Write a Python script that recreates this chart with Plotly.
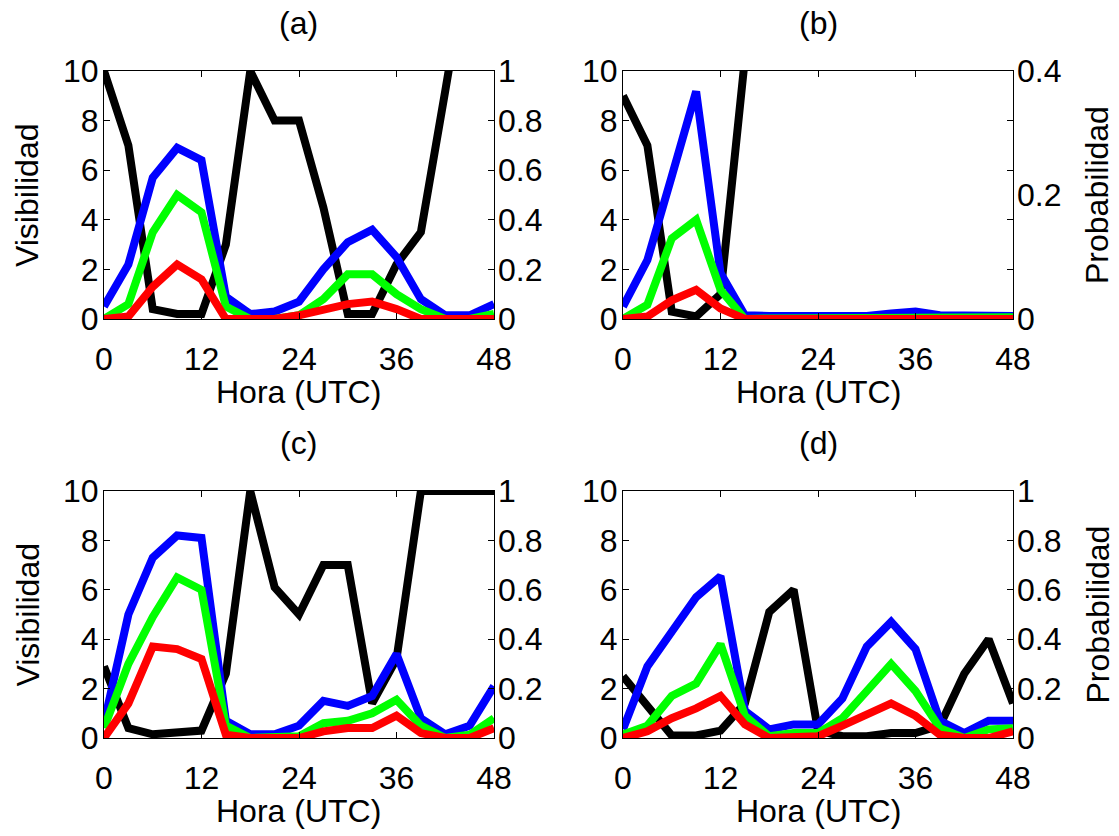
import plotly.graph_objects as go

# ---------------- data ----------------
hours = [0, 3, 6, 9, 12, 15, 18, 21, 24, 27, 30, 33, 36, 39, 42, 45, 48]

# panel (a)
vis_a = [10, 7, 0.4, 0.2, 0.2, 3, 10, 8, 8, 4.5, 0.2, 0.2, 2.2, 3.5, 9.2, 15, 15]
prob_a_blue = [0.05, 0.22, 0.57, 0.69, 0.64, 0.09, 0.02, 0.03, 0.07, 0.2, 0.31, 0.36, 0.25, 0.08, 0.015, 0.015, 0.06]
prob_a_green = [0, 0.06, 0.35, 0.5, 0.43, 0.05, 0, 0, 0.015, 0.08, 0.18, 0.18, 0.1, 0.04, 0, 0, 0.02]
prob_a_red = [0, 0.01, 0.13, 0.22, 0.16, 0, 0, 0, 0.015, 0.04, 0.06, 0.07, 0.04, 0, 0, 0, 0]

# panel (b)
vis_b = [9, 7, 0.3, 0.1, 1, 10.3, 20, 20, 20, 20, 20, 20, 20, 20, 20, 20, 20]
prob_b_blue = [0.02, 0.095, 0.23, 0.367, 0.074, 0.006, 0.005, 0.005, 0.005, 0.005, 0.005, 0.009, 0.012, 0.006, 0.005, 0.005, 0.005]
prob_b_green = [0, 0.023, 0.13, 0.16, 0.047, 0, 0.001, 0.001, 0.001, 0.001, 0.001, 0.001, 0.001, 0.001, 0.001, 0.002, 0.003]
prob_b_red = [0, 0.004, 0.03, 0.047, 0.017, 0, 0, 0, 0, 0, 0, 0, 0, 0, 0, 0, 0]

# panel (c)
vis_c = [2.9, 0.4, 0.15, 0.2, 0.3, 2.6, 10, 6.1, 5, 7, 7, 1.4, 3.2, 10, 10, 10, 10]
prob_c_blue = [0.06, 0.5, 0.73, 0.82, 0.81, 0.07, 0.015, 0.015, 0.05, 0.15, 0.13, 0.17, 0.34, 0.08, 0.015, 0.05, 0.21]
prob_c_green = [0.04, 0.3, 0.49, 0.65, 0.6, 0.05, 0, 0, 0.007, 0.06, 0.07, 0.1, 0.155, 0.05, 0, 0.013, 0.08]
prob_c_red = [0, 0.14, 0.37, 0.36, 0.32, 0.013, 0, 0, 0, 0.027, 0.04, 0.04, 0.09, 0.02, 0, 0, 0.04]

# panel (d)
vis_d = [2.5, 1.3, 0.1, 0.1, 0.3, 1.4, 5.1, 6, 0.3, 0.07, 0.07, 0.2, 0.2, 0.5, 2.6, 4, 1.4]
prob_d_blue = [0.035, 0.29, 0.43, 0.57, 0.655, 0.11, 0.035, 0.055, 0.055, 0.16, 0.37, 0.47, 0.36, 0.07, 0.02, 0.07, 0.07]
prob_d_green = [0.014, 0.05, 0.17, 0.22, 0.38, 0.09, 0.007, 0.02, 0.02, 0.08, 0.19, 0.3, 0.19, 0.04, 0, 0.035, 0.04]
prob_d_red = [0, 0.027, 0.08, 0.12, 0.17, 0.055, 0, 0.007, 0.007, 0.05, 0.095, 0.14, 0.09, 0.013, 0, 0, 0.027]

panel_titles = ["(a)", "(b)", "(c)", "(d)"]
x_ticks = [0, 12, 24, 36, 48]
left_ticks = [0, 2, 4, 6, 8, 10]
right_ranges = [1, 0.4, 1, 1]
right_ticks = [[0, 0.2, 0.4, 0.6, 0.8, 1], [0, 0.2, 0.4], [0, 0.2, 0.4, 0.6, 0.8, 1], [0, 0.2, 0.4, 0.6, 0.8, 1]]
x_label = "Hora (UTC)"
left_label = "Visibilidad"
right_label = "Probabilidad"

panels = [
    (vis_a, prob_a_blue, prob_a_green, prob_a_red),
    (vis_b, prob_b_blue, prob_b_green, prob_b_red),
    (vis_c, prob_c_blue, prob_c_green, prob_c_red),
    (vis_d, prob_d_blue, prob_d_green, prob_d_red),
]

# ---------------- layout geometry ----------------
W, H = 1119, 836
FONT = "Liberation Sans, Arial, Helvetica, sans-serif"
FS = 32
LW = 8

x_doms = [(104 / W, 494 / W), (623 / W, 1013 / W)]
y_doms = [(1 - 319 / H, 1 - 71 / H), (1 - 738 / H, 1 - 491 / H)]

fig = go.Figure()
layout = dict(
    template="none",
    width=W, height=H,
    margin=dict(l=0, r=0, t=0, b=0, pad=0),
    paper_bgcolor="white", plot_bgcolor="white",
    showlegend=False,
    font=dict(family=FONT, size=FS, color="black"),
)
annotations = []

for i, (vis, pb, pg, pr) in enumerate(panels):
    k = i + 1
    col = i % 2
    row = i // 2
    xd = x_doms[col]
    yd = y_doms[row]
    xname = "x" if k == 1 else f"x{k}"
    yl = 2 * k - 1
    yr = 2 * k
    ylname = "y" if yl == 1 else f"y{yl}"
    yrname = f"y{yr}"

    fig.add_trace(go.Scatter(x=hours, y=vis, mode="lines", xaxis=xname, yaxis=ylname,
                             line=dict(color="black", width=LW), hoverinfo="x+y"))
    for vals, c in ((pb, "#0000FF"), (pg, "#00FF00"), (pr, "#FF0000")):
        fig.add_trace(go.Scatter(x=hours, y=vals, mode="lines", xaxis=xname, yaxis=yrname,
                                 line=dict(color=c, width=LW), hoverinfo="x+y"))

    xkey = "xaxis" if k == 1 else f"xaxis{k}"
    ylkey = "yaxis" if yl == 1 else f"yaxis{yl}"
    yrkey = f"yaxis{yr}"

    layout[xkey] = dict(
        domain=list(xd), anchor=ylname, range=[0, 48], tickvals=x_ticks,
        ticks="inside", ticklen=6, tickcolor="black", tickwidth=1,
        showline=True, linecolor="black", linewidth=1, mirror="ticks",
        showgrid=False, zeroline=False, ticklabelstandoff=12, automargin=False,
        tickfont=dict(family=FONT, size=FS, color="black"),
    )
    layout[ylkey] = dict(
        domain=list(yd), anchor=xname, range=[0, 10], tickvals=left_ticks,
        ticks="inside", ticklen=6, tickcolor="black", tickwidth=1,
        showline=True, linecolor="black", linewidth=1, mirror="ticks",
        showgrid=False, zeroline=False, ticklabelstandoff=-2, automargin=False,
        tickfont=dict(family=FONT, size=FS, color="black"),
    )
    layout[yrkey] = dict(
        domain=list(yd), anchor=xname, overlaying=ylname, side="right",
        range=[0, right_ranges[i]], tickvals=right_ticks[i],
        ticks="", showline=False, showgrid=False, zeroline=False,
        ticklabelstandoff=3, automargin=False,
        tickfont=dict(family=FONT, size=FS, color="black"),
    )

    # text: titles and axis labels
    top_px = 71 if row == 0 else 491
    bot_px = 319 if row == 0 else 738
    cx = (xd[0] + xd[1]) / 2
    cy = 1 - ((top_px + bot_px) / 2) / H
    annotations.append(dict(text=panel_titles[i], x=cx, y=1 - (top_px - 48) / H,
                            xref="paper", yref="paper", showarrow=False,
                            xanchor="center", yanchor="middle",
                            font=dict(family=FONT, size=FS, color="black")))
    annotations.append(dict(text=x_label, x=cx, y=1 - (bot_px + 73) / H,
                            xref="paper", yref="paper", showarrow=False,
                            xanchor="center", yanchor="middle",
                            font=dict(family=FONT, size=FS, color="black")))
    if col == 0:
        annotations.append(dict(text=left_label, x=27 / W, y=cy,
                                xref="paper", yref="paper", showarrow=False,
                                textangle=-90, xanchor="center", yanchor="middle",
                                font=dict(family=FONT, size=FS, color="black")))
    else:
        annotations.append(dict(text=right_label, x=1097 / W, y=cy,
                                xref="paper", yref="paper", showarrow=False,
                                textangle=-90, xanchor="center", yanchor="middle",
                                font=dict(family=FONT, size=FS, color="black")))

layout["annotations"] = annotations
fig.update_layout(**layout)
fig.write_html(
    "out.html",
    config={"displayModeBar": False},
    post_script="document.body.style.margin='0';document.body.style.overflow='hidden';",
)
